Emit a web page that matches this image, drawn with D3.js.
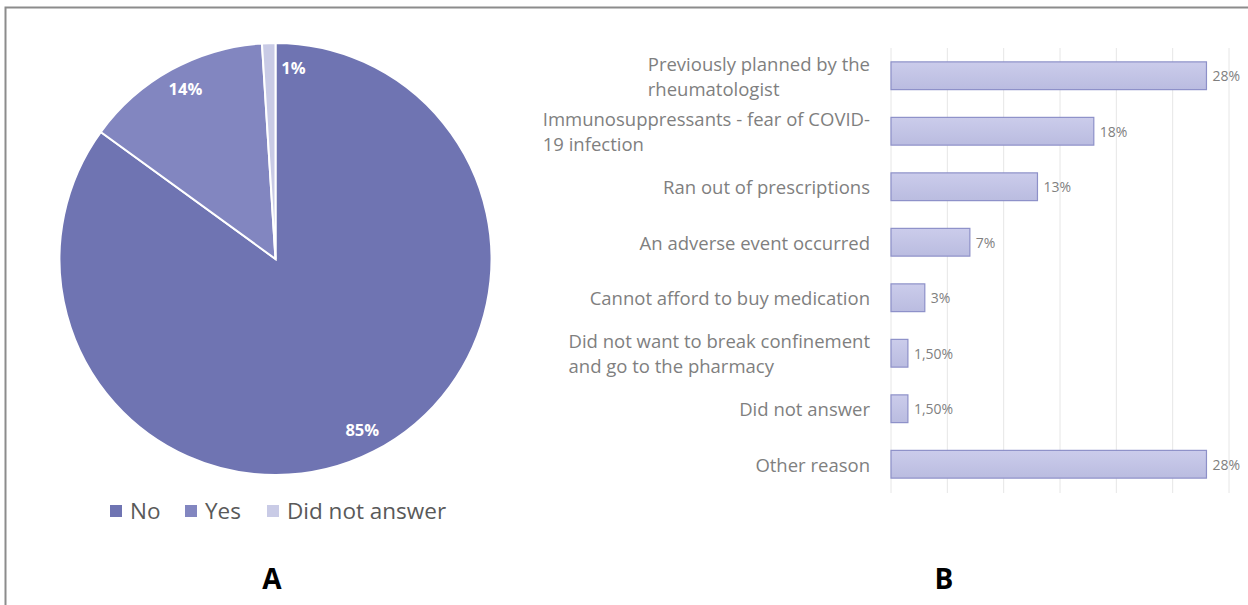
<!DOCTYPE html>
<html>
<head>
<meta charset="utf-8">
<script src="https://cdn.jsdelivr.net/npm/d3@7"></script>
<style>
  html, body { margin: 0; padding: 0; background: #fff; }
  svg { display: block; }
  text { font-family: "Open Sans", Lato, sans-serif; }
</style>
</head>
<body>
<svg id="chart" width="1248" height="605"></svg>
<script>
// ---- Data ----
const pieCategories = ["No", "Yes", "Did not answer"];
const pieValues = [85, 14, 1];
const pieLabels = ["85%", "14%", "1%"];
const pieColors = ["#6f74b2", "#8286c0", "#c9cbe6"];

const barCategories = [
  ["Previously planned by the", "rheumatologist"],
  ["Immunosuppressants - fear of COVID-", "19 infection"],
  ["Ran out of prescriptions"],
  ["An adverse event occurred"],
  ["Cannot afford to buy medication"],
  ["Did not want to break confinement", "and go to the pharmacy"],
  ["Did not answer"],
  ["Other reason"]
];
const barValues = [28, 18, 13, 7, 3, 1.5, 1.5, 28];
const barLabels = ["28%", "18%", "13%", "7%", "3%", "1,50%", "1,50%", "28%"];
const xTicks = [0, 5, 10, 15, 20, 25, 30];

const svg = d3.select("#chart");

// frame
svg.append("path")
  .attr("d", "M5.5,620 L5.5,7.5 L1260,7.5")
  .attr("fill", "none").attr("stroke", "#8c8c8c").attr("stroke-width", 2);

// ---- Pie (A) ----
const cx = 275.5, cy = 259, R = 216;
const pie = d3.pie().sort(null).value(d => d)(pieValues);
const arc = d3.arc().innerRadius(0).outerRadius(R);
const gPie = svg.append("g").attr("transform", `translate(${cx},${cy})`);
gPie.selectAll("path.slice").data(pie).join("path")
  .attr("class", "slice")
  .attr("d", arc)
  .attr("fill", (d, i) => pieColors[i])
  .attr("stroke", "#fff").attr("stroke-width", 2);

const labelArc = d3.arc().innerRadius(R * 0.885).outerRadius(R * 0.885);
const labelDx = [0, 2, 24];
const labelDy = [0, -3, 0];
gPie.selectAll("text.plabel").data(pie).join("text")
  .attr("class", "plabel")
  .attr("transform", (d, i) => {
    const [lx, ly] = labelArc.centroid(d);
    return `translate(${lx + labelDx[i]},${ly + labelDy[i]})`;
  })
  .attr("text-anchor", "middle")
  .attr("dominant-baseline", "central")
  .attr("fill", "#fff").attr("font-weight", "bold").attr("font-size", 16.5)
  .text((d, i) => pieLabels[i]);

// legend
const legendX = [110, 185, 267];
const gLeg = svg.append("g");
pieCategories.forEach((c, i) => {
  gLeg.append("rect").attr("x", legendX[i]).attr("y", 505).attr("width", 12).attr("height", 12)
    .attr("fill", pieColors[i]);
  gLeg.append("text").attr("x", legendX[i] + 20).attr("y", 519)
    .attr("font-size", 22.5).attr("fill", "#595959").text(c);
});

svg.append("text").attr("x", 272).attr("y", 589).attr("text-anchor", "middle")
  .attr("font-size", 28).attr("font-weight", "bold").attr("fill", "#000").text("A");
svg.append("text").attr("x", 944).attr("y", 589).attr("text-anchor", "middle")
  .attr("font-size", 28).attr("font-weight", "bold").attr("fill", "#000").text("B");

// ---- Bar chart (B) ----
const x = d3.scaleLinear().domain([0, 30]).range([891, 1229]);
const y = d3.scaleBand().domain(d3.range(barCategories.length)).range([48, 492]).paddingInner(0.5).paddingOuter(0.25);

const gGrid = svg.append("g");
gGrid.selectAll("line").data(xTicks).join("line")
  .attr("x1", d => x(d)).attr("x2", d => x(d))
  .attr("y1", 48).attr("y2", 493)
  .attr("stroke", "#e6e6e6").attr("stroke-width", 1);

const defs = svg.append("defs");
const grad = defs.append("linearGradient").attr("id", "barGrad").attr("x1", 0).attr("y1", 0).attr("x2", 0).attr("y2", 1);
grad.append("stop").attr("offset", "0%").attr("stop-color", "#cbcceb");
grad.append("stop").attr("offset", "100%").attr("stop-color", "#babce0");

svg.append("g").selectAll("rect").data(barValues).join("rect")
  .attr("x", x(0))
  .attr("y", (d, i) => y(i))
  .attr("width", d => x(d) - x(0))
  .attr("height", y.bandwidth())
  .attr("fill", "url(#barGrad)")
  .attr("stroke", "#8d90c8").attr("stroke-width", 1.2);

svg.append("g").selectAll("text").data(barValues).join("text")
  .attr("x", d => x(d) + 6)
  .attr("y", (d, i) => y(i) + y.bandwidth() / 2)
  .attr("dominant-baseline", "central")
  .attr("font-size", 14).attr("fill", "#7f7f7f")
  .text((d, i) => barLabels[i]);

const gCat = svg.append("g");
const catSize = 18.5;
barCategories.forEach((lines, i) => {
  const cyb = y(i) + y.bandwidth() / 2;
  const lh = 25;
  // first line right aligned at 870, following lines start where the first starts
  const first = gCat.append("text").attr("text-anchor", "end")
    .attr("x", 870)
    .attr("y", cyb - (lines.length - 1) / 2 * lh)
    .attr("dominant-baseline", "central")
    .attr("font-size", catSize).attr("fill", "#7f7f7f")
    .text(lines[0]);
  const w = first.node().getComputedTextLength();
  lines.slice(1).forEach((ln, j) => {
    gCat.append("text").attr("text-anchor", "start")
      .attr("x", 870 - w)
      .attr("y", cyb + (j + 1 - (lines.length - 1) / 2) * lh)
      .attr("dominant-baseline", "central")
      .attr("font-size", catSize).attr("fill", "#7f7f7f")
      .text(ln);
  });
});
</script>
</body>
</html>
